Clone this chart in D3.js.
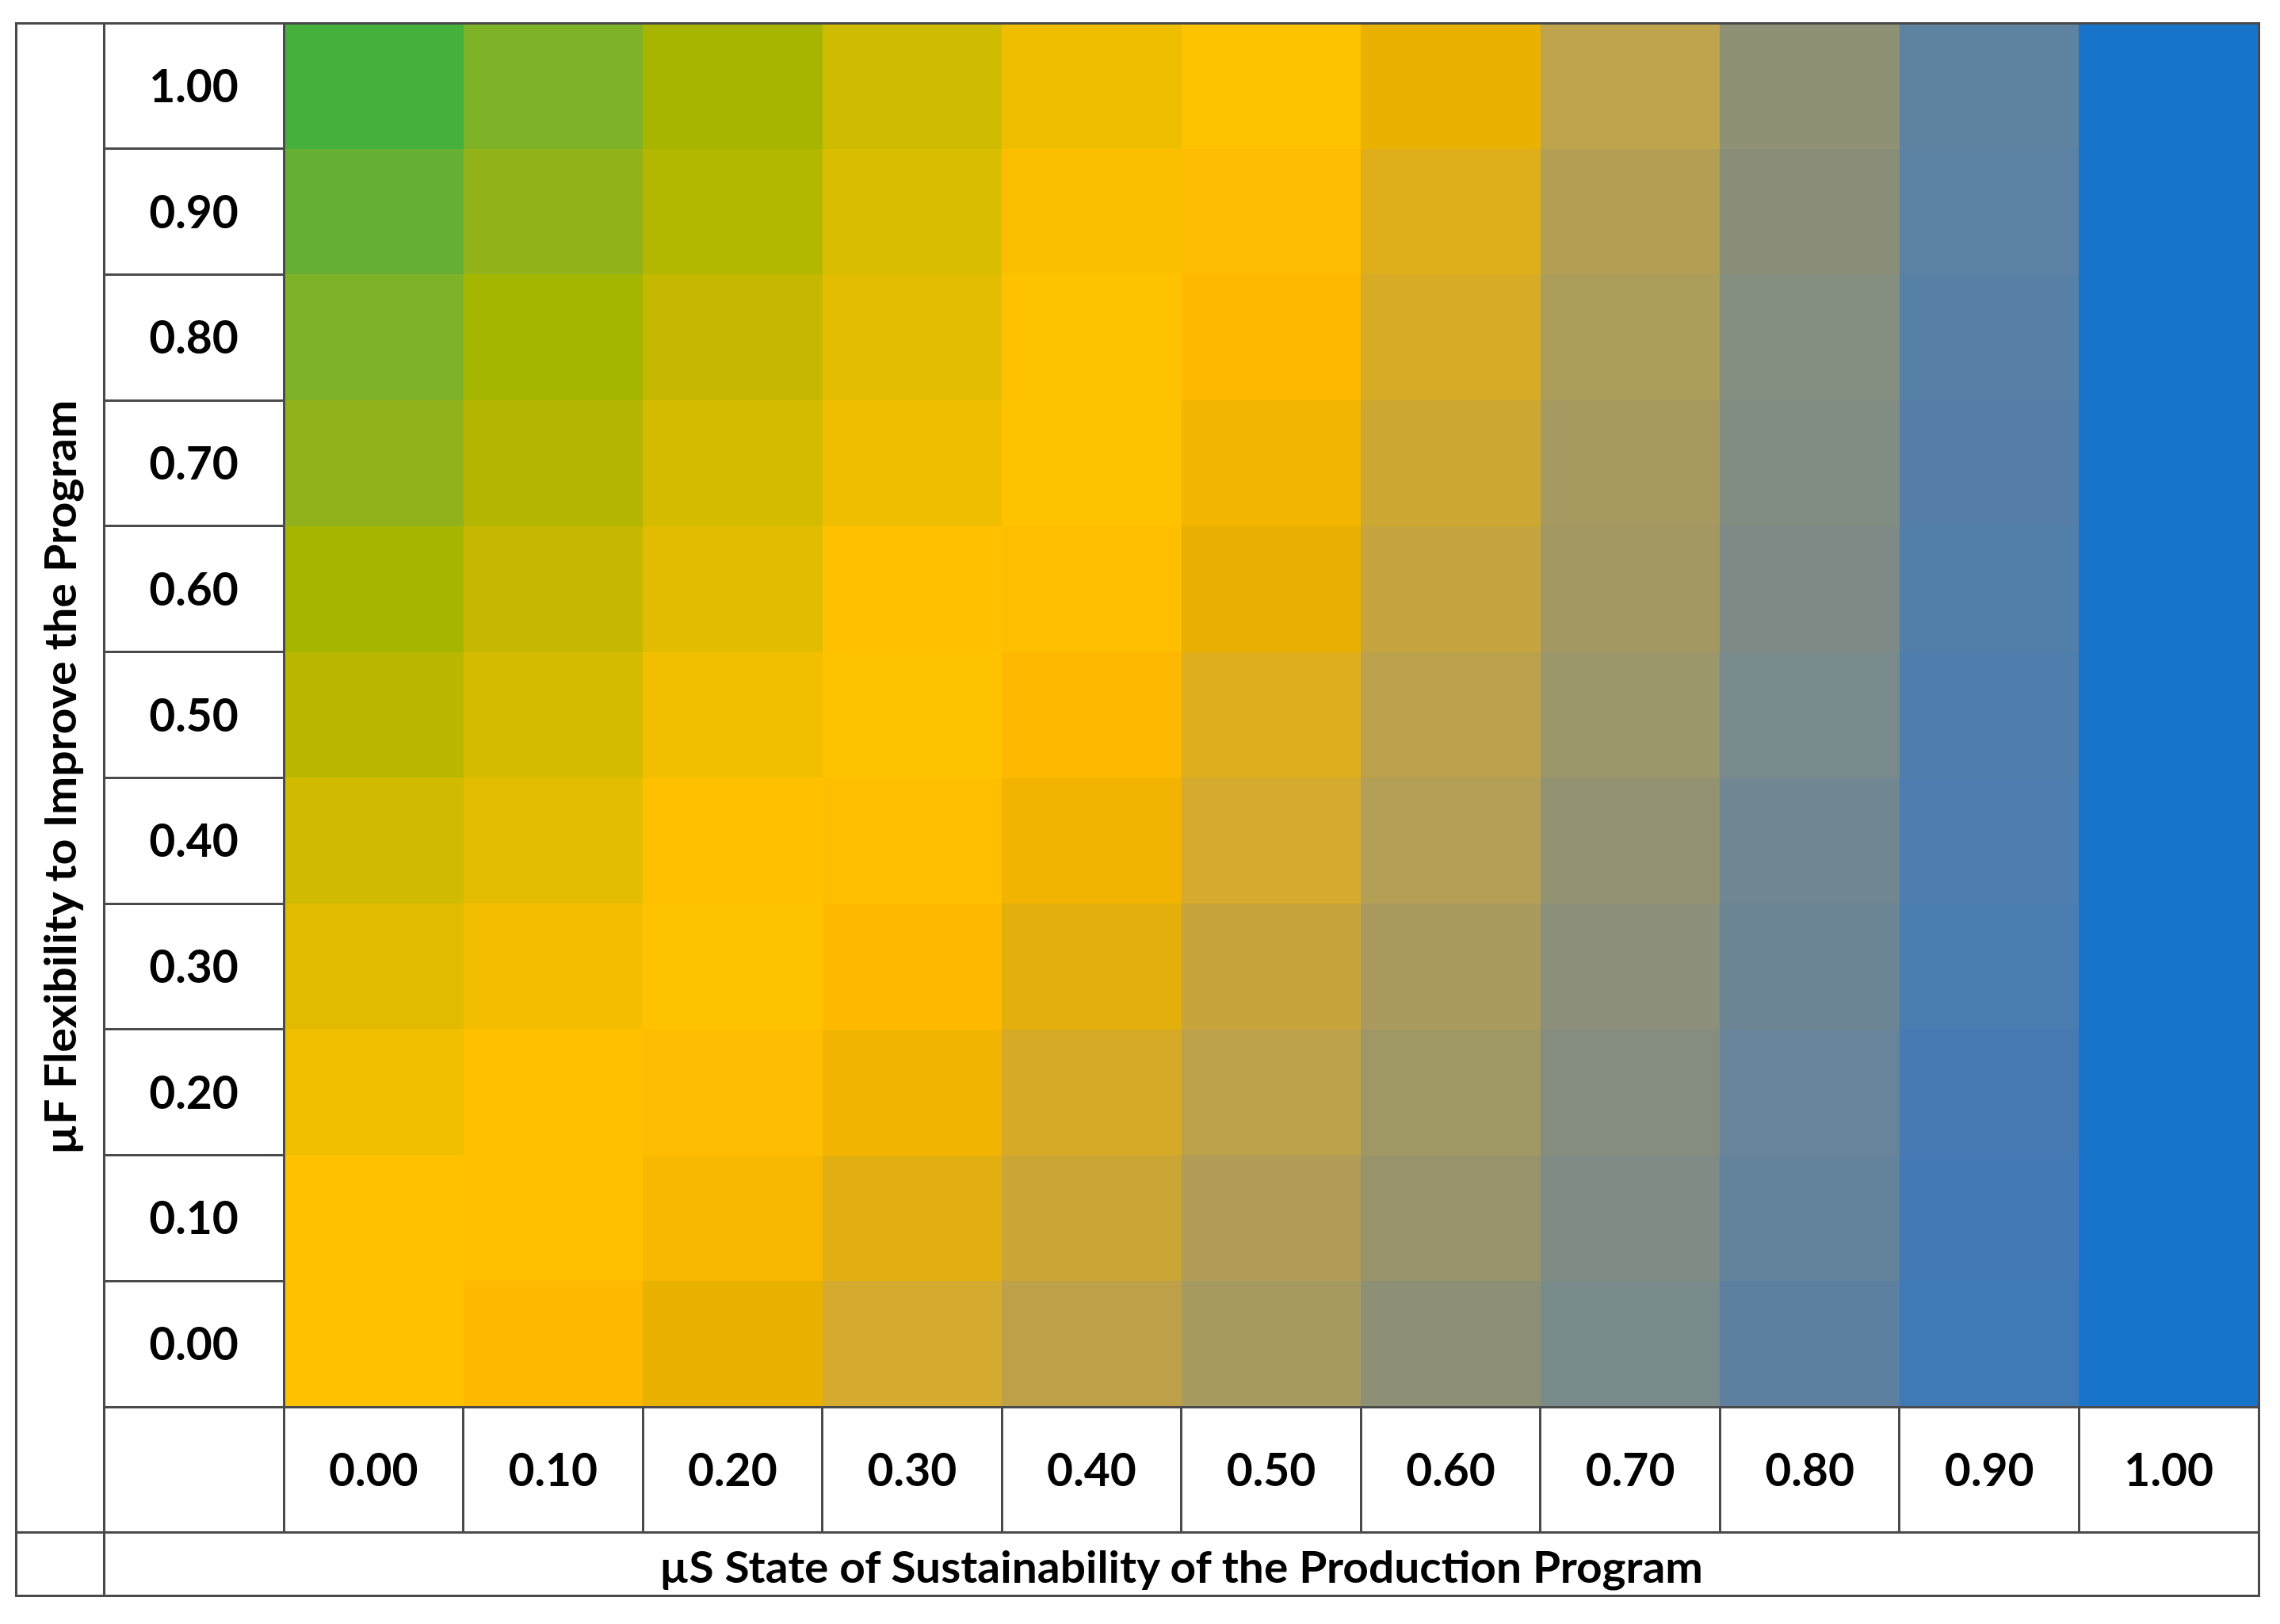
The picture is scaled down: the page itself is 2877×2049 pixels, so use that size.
<!DOCTYPE html>
<meta charset="utf-8">
<style>
body { margin: 0; background: #fff; }
svg { display: block; }
.lbl { font-family: Lato, "Open Sans", sans-serif; font-weight: bold; fill: #000; }
.cell { shape-rendering: crispEdges; }
.grid line, .grid rect { stroke: #4a4a4a; stroke-width: 3; fill: none; shape-rendering: crispEdges; }
</style>
<body>
<script src="https://d3js.org/d3.v7.min.js"></script>
<script>

// µS categories (columns) and µF categories (rows, top to bottom)
var muS = ["0.00", "0.10", "0.20", "0.30", "0.40", "0.50", "0.60", "0.70", "0.80", "0.90", "1.00"];
var muF = ["1.00", "0.90", "0.80", "0.70", "0.60", "0.50", "0.40", "0.30", "0.20", "0.10", "0.00"];

// cell colours read per row, µS = 0.00 .. 1.00
var rowF100 = ["#45b03c","#7fb327","#a8b500","#cfbb00","#f0be00","#ffc200","#e9b200","#bea44c","#8e9174","#5e83a0","#1873ca"];
var rowF090 = ["#65b032","#91b219","#b4b700","#d9bd00","#fbbf00","#ffbd00","#dfae1b","#b39f53","#8a8e79","#5b81a3","#1873ca"];
var rowF080 = ["#7fb327","#a5b600","#c6b800","#e3bd00","#ffc200","#ffb800","#d7ab26","#ad9d5b","#848e7e","#5680a5","#1873ca"];
var rowF070 = ["#91b21a","#b4b500","#d4bb00","#f0be00","#ffc200","#f3b500","#cca833","#a79a60","#818c83","#557fa8","#1873ca"];
var rowF060 = ["#a6b500","#c6b800","#e1bc00","#ffc000","#ffbe00","#e8b000","#c6a540","#a39862","#7e8a85","#527eaa","#1873ca"];
var rowF050 = ["#bab700","#d6bc00","#f2bf00","#ffc200","#ffb800","#dfae1e","#bca14c","#9c966b","#788a8b","#4f7dac","#1873ca"];
var rowF040 = ["#d1bb00","#e4bd00","#ffc000","#ffbf00","#f2b400","#d4aa2f","#b39f55","#939271","#718791","#4e7daf","#1873ca"];
var rowF030 = ["#e2bb00","#f4bf00","#ffc200","#ffb900","#e2af0d","#c8a43c","#aa9a5e","#8c8f79","#6c8594","#497cb1","#1873ca"];
var rowF020 = ["#f2bf00","#ffc000","#ffbd00","#f2b400","#d6aa26","#bca14b","#a09864","#858e7e","#68849a","#477ab3","#1873ca"];
var rowF010 = ["#ffc100","#ffc000","#f8b700","#e2af12","#cba536","#b09c55","#97946c","#7f8b84","#63839d","#4479b5","#1873ca"];
var rowF000 = ["#ffc100","#ffb900","#e9b100","#d4ab2e","#bea049","#a69a61","#8d9074","#788a8a","#5e80a0","#3f79b6","#1873ca"];

var rows = [rowF100, rowF090, rowF080, rowF070, rowF060, rowF050, rowF040, rowF030, rowF020, rowF010, rowF000];

var xTitle = "µS State of Sustainability of the Production Program";
var yTitle = "µF Flexibility to Improve the Program";

var W = 2877, H = 2049;
var edgeL = 20, edgeT = 29, edgeR = 2850, edgeB = 2013,
    titleCol = 131, labelCol = 358, mapBottom = 1775, tickBottom = 1933;

var svg = d3.select("body").append("svg")
    .attr("width", W)
    .attr("height", H);

var x = d3.scaleBand().domain(muS).range([labelCol, edgeR]);
var y = d3.scaleBand().domain(muF).range([edgeT, mapBottom]);

var cells = [];
rows.forEach(function(r, i) {
  r.forEach(function(c, j) {
    cells.push({f: muF[i], s: muS[j], color: c});
  });
});

svg.append("g").selectAll("rect")
    .data(cells)
  .enter().append("rect")
    .attr("class", "cell")
    .attr("x", function(d) { return x(d.s); })
    .attr("y", function(d) { return y(d.f); })
    .attr("width", x.bandwidth() + 1)
    .attr("height", y.bandwidth() + 1)
    .attr("fill", function(d) { return d.color; });

// table lines
var grid = svg.append("g").attr("class", "grid");
grid.append("rect")
    .attr("x", edgeL).attr("y", edgeT)
    .attr("width", edgeR - edgeL).attr("height", edgeB - edgeT);
grid.append("line").attr("x1", titleCol).attr("x2", titleCol).attr("y1", edgeT).attr("y2", edgeB);
grid.append("line").attr("x1", labelCol).attr("x2", labelCol).attr("y1", edgeT).attr("y2", tickBottom);
grid.append("line").attr("x1", titleCol).attr("x2", edgeR).attr("y1", mapBottom).attr("y2", mapBottom);
grid.append("line").attr("x1", edgeL).attr("x2", edgeR).attr("y1", tickBottom).attr("y2", tickBottom);

grid.selectAll(".rowsep")
    .data(muF.slice(1))
  .enter().append("line")
    .attr("x1", titleCol).attr("x2", labelCol)
    .attr("y1", function(d) { return y(d); })
    .attr("y2", function(d) { return y(d); });

grid.selectAll(".colsep")
    .data(muS.slice(1))
  .enter().append("line")
    .attr("x1", function(d) { return x(d); })
    .attr("x2", function(d) { return x(d); })
    .attr("y1", mapBottom).attr("y2", tickBottom);

// tick labels through axes, centred in their table cells
var yAxis = svg.append("g")
    .attr("transform", "translate(" + ((titleCol + labelCol) / 2) + ",0)")
    .call(d3.axisLeft(y).tickSize(0).tickPadding(0));
yAxis.select(".domain").remove();
yAxis.selectAll("text")
    .attr("class", "lbl")
    .attr("text-anchor", "middle")
    .attr("dy", "0.36em")
    .style("font-size", "57px");

var xAxis = svg.append("g")
    .attr("transform", "translate(0," + ((mapBottom + tickBottom) / 2) + ")")
    .call(d3.axisBottom(x).tickSize(0).tickPadding(0));
xAxis.select(".domain").remove();
xAxis.selectAll("text")
    .attr("class", "lbl")
    .attr("y", 0)
    .attr("dy", "0.36em")
    .style("font-size", "57px");

svg.append("text")
    .attr("class", "lbl")
    .attr("x", (titleCol + edgeR) / 2)
    .attr("y", (tickBottom + edgeB) / 2 + 4)
    .attr("dy", "0.36em")
    .attr("text-anchor", "middle")
    .attr("textLength", 1317)
    .attr("lengthAdjust", "spacingAndGlyphs")
    .style("font-size", "56px")
    .text(xTitle);

svg.append("text")
    .attr("class", "lbl")
    .attr("transform", "translate(" + ((edgeL + titleCol) / 2) + "," + ((edgeT + tickBottom) / 2) + ") rotate(-90)")
    .attr("dy", "0.36em")
    .attr("text-anchor", "middle")
    .attr("textLength", 952)
    .attr("lengthAdjust", "spacingAndGlyphs")
    .style("font-size", "56px")
    .text(yTitle);

</script>
